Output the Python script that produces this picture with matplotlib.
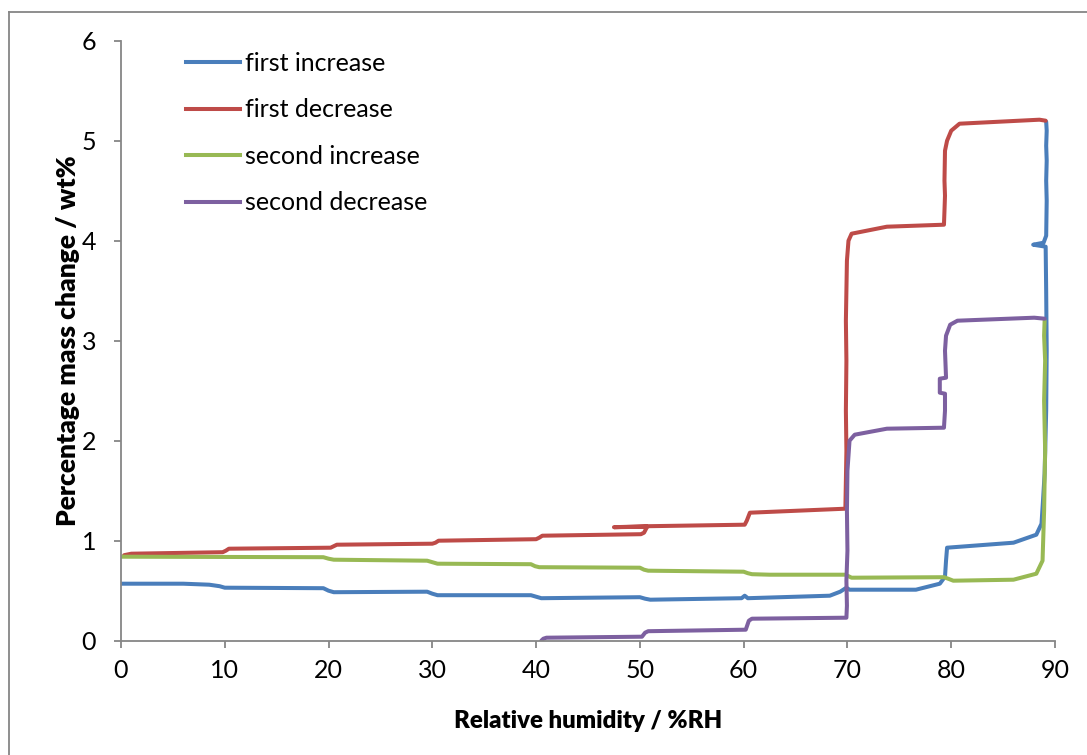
import matplotlib
matplotlib.use("Agg")
import matplotlib.pyplot as plt
from matplotlib.lines import Line2D

plt.rcParams['font.family'] = ['Lato', 'DejaVu Sans']

# ---- data ----
first_increase_x = [0.0, 6.0, 8.5, 9.5, 10.0, 19.5, 20.0, 20.5, 29.5, 30.0, 30.5, 39.5, 40.0, 40.5,
                    50.0, 50.5, 51.0, 59.8, 60.1, 60.4, 68.3, 69.3, 69.9, 70.2, 76.6, 78.9, 79.4,
                    79.5, 79.6, 86.0, 88.2, 88.7, 88.85, 89.0, 89.15, 89.2, 89.15, 89.1, 87.9,
                    88.9, 89.15, 89.2, 89.15, 89.2, 89.15, 89.2, 89.15]
first_increase_y = [0.57, 0.57, 0.56, 0.545, 0.53, 0.525, 0.50, 0.485, 0.49, 0.47, 0.455, 0.455, 0.44, 0.425,
                    0.435, 0.42, 0.41, 0.425, 0.45, 0.425, 0.45, 0.49, 0.53, 0.51, 0.51, 0.57, 0.64,
                    0.80, 0.93, 0.98, 1.06, 1.17, 1.41, 1.67, 2.3, 2.9, 3.5, 3.94, 3.96,
                    3.98, 4.05, 4.4, 4.6, 4.8, 4.95, 5.1, 5.19]

first_decrease_x = [89.1, 88.5, 80.8, 80.0, 79.6, 79.4, 79.35, 79.4, 79.35, 79.3, 73.8, 70.4, 70.1,
                    69.95, 69.9, 69.85, 69.9, 69.85, 69.9, 69.85, 69.8, 60.6, 60.3, 60.1, 50.8,
                    47.5, 50.7, 50.4, 50.1, 40.6, 40.3, 40.0, 30.6, 30.3, 30.0, 20.8, 20.5,
                    20.2, 10.4, 10.1, 9.8, 1.0, 0.3]
first_decrease_y = [5.20, 5.21, 5.17, 5.10, 5.00, 4.90, 4.60, 4.45, 4.30, 4.16, 4.14, 4.07, 4.00,
                    3.80, 3.50, 3.20, 2.80, 2.30, 1.90, 1.60, 1.32, 1.28, 1.20, 1.16, 1.145,
                    1.135, 1.14, 1.08, 1.065, 1.05, 1.03, 1.015, 1.00, 0.98, 0.97, 0.96, 0.945,
                    0.93, 0.92, 0.90, 0.885, 0.87, 0.855]

second_increase_x = [0.0, 19.5, 20.0, 20.5, 29.5, 30.0, 30.5, 39.5, 39.9, 40.3, 50.0, 50.4, 50.8,
                     60.0, 60.4, 60.8, 62.5, 69.8, 70.1, 70.4, 79.3, 79.7, 80.2, 86.0, 88.2,
                     88.8, 88.95, 89.05, 88.95, 89.05, 88.95, 89.0]
second_increase_y = [0.84, 0.835, 0.82, 0.81, 0.80, 0.785, 0.77, 0.765, 0.745, 0.735, 0.73, 0.71, 0.70,
                     0.69, 0.675, 0.665, 0.66, 0.66, 0.645, 0.63, 0.635, 0.62, 0.60, 0.61, 0.67,
                     0.80, 1.30, 1.90, 2.40, 2.80, 3.05, 3.20]

second_decrease_x = [89.0, 88.0, 80.6, 79.9, 79.5, 79.4, 79.5, 78.9, 78.9, 79.4, 79.4, 79.3, 73.8,
                     70.7, 70.2, 70.0, 69.95, 70.0, 69.9, 69.95, 69.9, 60.8, 60.5, 60.2, 50.8,
                     50.5, 50.2, 41.0, 40.7, 40.5]
second_decrease_y = [3.22, 3.23, 3.20, 3.16, 3.05, 2.90, 2.63, 2.62, 2.48, 2.47, 2.30, 2.13, 2.12,
                     2.06, 2.00, 1.70, 1.30, 0.90, 0.60, 0.35, 0.23, 0.22, 0.20, 0.11, 0.095,
                     0.08, 0.04, 0.03, 0.02, 0.0]

series_names = ["first increase", "first decrease", "second increase", "second decrease"]
series_colors = ["#4A7EBB", "#BE4B48", "#98B954", "#7D60A0"]
x_ticks = [0, 10, 20, 30, 40, 50, 60, 70, 80, 90]
y_ticks = [0, 1, 2, 3, 4, 5, 6]

W, H = 1087, 755
fig = plt.figure(figsize=(W / 100, H / 100), dpi=100)
ax = fig.add_axes([121 / W, 1 - 640.7 / H, (1055 - 121) / W, (640.7 - 40.7) / H])

xs = [first_increase_x, first_decrease_x, second_increase_x, second_decrease_x]
ys = [first_increase_y, first_decrease_y, second_increase_y, second_decrease_y]
for x, y, name, c in zip(xs, ys, series_names, series_colors):
    ax.plot(x, y, color=c, lw=2.9, label=name, solid_joinstyle='round', solid_capstyle='round')

ax.set_xlim(0, 90)
ax.set_ylim(0, 6)
ax.set_xticks(x_ticks)
ax.set_yticks(y_ticks)
ax.tick_params(axis='both', direction='out', length=5, width=1.3, color='#868686',
               labelsize=18, labelcolor='black')
ax.tick_params(axis='x', pad=8)
ax.tick_params(axis='y', pad=13)
for s in ['top', 'right']:
    ax.spines[s].set_visible(False)
for s in ['left', 'bottom']:
    ax.spines[s].set_color('#868686')
    ax.spines[s].set_linewidth(1.3)

ax.set_xlabel("Relative humidity / %RH", fontsize=17.3, fontweight='heavy', labelpad=20)
ax.set_ylabel("Percentage mass change / wt%", fontsize=19, fontweight='heavy', labelpad=1)

handles = [Line2D([0], [0], color=c, lw=2.9) for c in series_colors]
leg = ax.legend(handles, series_names, loc='upper left', bbox_to_anchor=(0.046, 1.019),
                frameon=False, fontsize=18, handlelength=2.16, handletextpad=0.17,
                labelspacing=0.94)

# outer chart border (left and top visible)
fig.add_artist(Line2D([9 / W, 9 / W], [0, 1 - 12 / H], color='#868686', lw=1.3,
                      transform=fig.transFigure))
fig.add_artist(Line2D([9 / W, 1.0], [1 - 12 / H, 1 - 12 / H], color='#868686', lw=1.3,
                      transform=fig.transFigure))

fig.savefig("out.png", dpi=100)
